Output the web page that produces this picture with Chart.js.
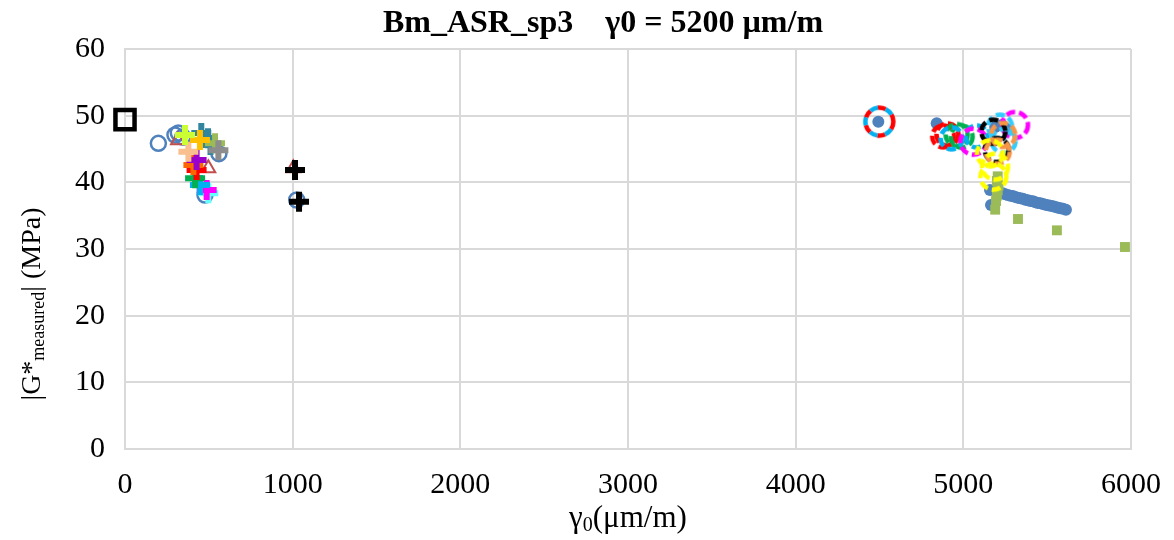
<!DOCTYPE html>
<html>
<head>
<meta charset="utf-8">
<script src="https://cdn.jsdelivr.net/npm/chart.js@4.4.1/dist/chart.umd.min.js"></script>
<style>
html,body{margin:0;padding:0;background:#fff;}
#wrap{width:1174px;height:540px;position:relative;}
</style>
</head>
<body>
<div id="wrap"><canvas id="c" width="1174" height="540"></canvas></div>
<script>
// ---------- DATA ----------
const titleText = 'Bm_ASR_sp3    \u03B30 = 5200 \u00B5m/m';
const xTicks = [0, 1000, 2000, 3000, 4000, 5000, 6000];
const yTicks = [0, 10, 20, 30, 40, 50, 60];

// left cluster (hollow markers)
const blackSquareX = [0];
const blackSquareY = [49.4];
const blueCircleX = [199, 298, 318, 345, 560, 477, 1024];
const blueCircleY = [45.85, 47.1, 47.4, 46.8, 44.3, 38.1, 37.35];
const redTriX = [316, 497, 1004];
const redTriY = [46.3, 42.1, 42.1];
const blackPlusX = [1014, 1038];
const blackPlusY = [41.85, 37.1];
const plusYellowGreenX = [358];   const plusYellowGreenY = [47.1];
const plusTealX = [455, 495, 510]; const plusTealY = [47.4, 46.6, 45.6];
const plusOrangeX = [447];        const plusOrangeY = [46.35];
const plusGreenX = [537];         const plusGreenY = [45.85];
const plusGrayX = [557];          const plusGrayY = [44.8];
const plusPeachX = [378];         const plusPeachY = [44.6];
const plusPurpleX = [427];        const plusPurpleY = [43.35];
const plusDarkOrangeX = [408];    const plusDarkOrangeY = [42.6];
const plusRedX = [427];           const plusRedY = [41.85];
const plusDarkGreenX = [418];     const plusDarkGreenY = [40.6];
const plusCyanX = [447];          const plusCyanY = [39.6];
const plusMagentaX = [487];       const plusMagentaY = [38.85];
const plusLightCyanX = [497];     const plusLightCyanY = [38.35];

// right cluster
const blueDotX = [4493, 4841, 5190, 5230, 5260, 5159, 5165,
  5205, 5220, 5235, 5250, 5265, 5280, 5295, 5310, 5325, 5340, 5355, 5370, 5385, 5400,
  5415, 5430, 5445, 5460, 5475, 5490, 5505, 5520, 5535, 5550, 5565, 5580, 5595, 5612];
const blueDotY = [49.1, 48.85, 48.3, 48.6, 48.0, 38.85, 36.6,
  38.55, 38.4, 38.35, 38.2, 38.1, 38.0, 37.95, 37.8, 37.7, 37.6, 37.55, 37.4, 37.3, 37.2,
  37.15, 37.0, 36.9, 36.85, 36.75, 36.65, 36.55, 36.5, 36.4, 36.3, 36.2, 36.1, 36.05, 35.9];
const greenSquareX = [5205, 5200, 5210, 5205, 5200, 5195, 5190, 5326, 5558, 5964];
const greenSquareY = [40.9, 40.2, 39.5, 38.8, 38.0, 37.2, 35.9, 34.5, 32.8, 30.3];

const ringRedCyanX = [4499];      const ringRedCyanY = [49.1];
const ringRedX = [4880, 4905];    const ringRedY = [46.9, 47.2];
const ringCyanX = [4930, 5079];   const ringCyanY = [46.6, 46.9];
const ringGreenX = [4990, 4960];  const ringGreenY = [46.85, 47.1];
const ringMagentaX = [5060, 5308]; const ringMagentaY = [46.1, 48.6];
const ringLightCyanX = [5219, 5240]; const ringLightCyanY = [48.35, 46.2];
const ringBlackX = [5179, 5199];  const ringBlackY = [47.6, 44.85];
const ringOrangeX = [5238, 5205]; const ringOrangeY = [47.1, 44.6];
const ringYellowX = [5159, 5189, 5179]; const ringYellowY = [44.35, 42.35, 40.85];

// ---------- helpers ----------
const FONT = "'Liberation Serif','Times New Roman',serif";
function pts(xs, ys) { return xs.map((x, i) => ({x: x, y: ys[i]})); }
function ring(colors, r) {
  const lw = 4.5, size = Math.ceil(2 * (r + lw));
  const c = document.createElement('canvas');
  c.width = size; c.height = size;
  const g = c.getContext('2d');
  g.lineWidth = lw;
  colors.forEach((col, i) => {
    g.strokeStyle = col;
    if (colors.length > 1) { g.setLineDash([8, 8]); g.lineDashOffset = i * 8; }
    else { g.setLineDash([9, 4]); }
    g.beginPath(); g.arc(size / 2, size / 2, r, 0, Math.PI * 2); g.stroke();
  });
  return c;
}
function plusDs(xs, ys, color, order) {
  return {data: pts(xs, ys), pointStyle: 'cross', pointRadius: 10, borderWidth: 6,
    borderColor: color, backgroundColor: color, order: order, clip: false};
}
function ringDs(xs, ys, colors, r, order) {
  return {data: pts(xs, ys), pointStyle: ring(colors, r), pointRadius: r,
    borderColor: colors[0], backgroundColor: 'rgba(0,0,0,0)', order: order, clip: false};
}

const datasets = [
  ringDs(ringRedCyanX, ringRedCyanY, ['#FF0000', '#00B0F0'], 14, 1),
  ringDs(ringYellowX, ringYellowY, ['#FFFF00'], 13, 1),
  ringDs(ringOrangeX, ringOrangeY, ['#F79646'], 12, 2),
  ringDs(ringBlackX, ringBlackY, ['#000000'], 12, 3),
  ringDs(ringLightCyanX, ringLightCyanY, ['#33CCFF'], 12, 4),
  ringDs(ringMagentaX, ringMagentaY, ['#FF00FF'], 13, 5),
  ringDs(ringCyanX, ringCyanY, ['#00B0F0'], 11, 6),
  ringDs(ringGreenX, ringGreenY, ['#00B050'], 11, 7),
  ringDs(ringRedX, ringRedY, ['#FF0000'], 11, 8),
  {data: pts(blackSquareX, blackSquareY), pointStyle: 'rect', pointRadius: 13.5, borderWidth: 4.5,
    borderColor: '#000000', backgroundColor: 'rgba(0,0,0,0)', order: 9, clip: false},
  plusDs(blackPlusX, blackPlusY, '#000000', 10),
  plusDs(plusYellowGreenX, plusYellowGreenY, '#CCFF33', 11),
  plusDs(plusOrangeX, plusOrangeY, '#FFC000', 12),
  plusDs(plusPeachX, plusPeachY, '#FABF8F', 13),
  plusDs(plusGrayX, plusGrayY, '#8C8C8C', 14),
  plusDs(plusGreenX, plusGreenY, '#9BBB59', 15),
  plusDs(plusTealX, plusTealY, '#31859C', 16),
  plusDs(plusPurpleX, plusPurpleY, '#9900CC', 17),
  plusDs(plusDarkOrangeX, plusDarkOrangeY, '#FF6600', 18),
  plusDs(plusRedX, plusRedY, '#FF0000', 19),
  plusDs(plusDarkGreenX, plusDarkGreenY, '#00B050', 20),
  plusDs(plusCyanX, plusCyanY, '#00B0F0', 21),
  plusDs(plusMagentaX, plusMagentaY, '#FF00FF', 22),
  plusDs(plusLightCyanX, plusLightCyanY, '#66FFFF', 23),
  {data: pts(redTriX, redTriY), pointStyle: 'triangle', pointRadius: 8, borderWidth: 2,
    borderColor: '#C0504D', backgroundColor: 'rgba(0,0,0,0)', order: 24, clip: false},
  {data: pts(blueCircleX, blueCircleY), pointStyle: 'circle', pointRadius: 7.5, borderWidth: 2.5,
    borderColor: '#4F81BD', backgroundColor: 'rgba(0,0,0,0)', order: 25, clip: false},
  {data: pts(greenSquareX, greenSquareY), pointStyle: 'rect', pointRadius: 7, borderWidth: 0,
    borderColor: '#9BBB59', backgroundColor: '#9BBB59', order: 26, clip: false},
  {data: pts(blueDotX, blueDotY), pointStyle: 'circle', pointRadius: 6, borderWidth: 0,
    borderColor: '#4F81BD', backgroundColor: '#4F81BD', order: 27, clip: false}
];

const textPlugin = {
  id: 'texts',
  afterDraw(chart) {
    const ctx = chart.ctx;
    ctx.save();
    ctx.fillStyle = '#000';
    // title
    ctx.font = 'bold 32px ' + FONT;
    ctx.textAlign = 'center';
    ctx.textBaseline = 'alphabetic';
    ctx.fillText(titleText, 603, 32);
    // x title: γ0(μm/m) with subscript 0
    ctx.textAlign = 'left';
    const xMain = '31px ' + FONT, xSub = '20px ' + FONT;
    ctx.font = xMain; const w1 = ctx.measureText('\u03B3').width;
    ctx.font = xSub;  const w2 = ctx.measureText('0').width;
    ctx.font = xMain; const w3 = ctx.measureText('(\u03BCm/m)').width;
    let x0 = 628 - (w1 + w2 + w3) / 2;
    const by = 527;
    ctx.font = xMain; ctx.fillText('\u03B3', x0, by);
    ctx.font = xSub;  ctx.fillText('0', x0 + w1, by + 4);
    ctx.font = xMain; ctx.fillText('(\u03BCm/m)', x0 + w1 + w2, by);
    // y title rotated
    const yMain = '28px ' + FONT, ySub = '18px ' + FONT;
    ctx.translate(40, 304);
    ctx.rotate(-Math.PI / 2);
    ctx.font = yMain; const a1 = ctx.measureText('|G*').width;
    ctx.font = ySub;  const a2 = ctx.measureText('measured').width;
    ctx.font = yMain; const a3 = ctx.measureText('| (MPa)').width;
    let s = -(a1 + a2 + a3) / 2;
    ctx.font = yMain; ctx.fillText('|G*', s, 0);
    ctx.font = ySub;  ctx.fillText('measured', s + a1, 4);
    ctx.font = yMain; ctx.fillText('| (MPa)', s + a1 + a2, 0);
    ctx.restore();
  }
};

new Chart(document.getElementById('c'), {
  type: 'scatter',
  data: {datasets: datasets},
  options: {
    responsive: false,
    animation: false,
    devicePixelRatio: 1,
    layout: {padding: {top: 49, right: 43, left: 0, bottom: 0}},
    plugins: {legend: {display: false}, tooltip: {enabled: false}, title: {display: false}},
    elements: {line: {borderWidth: 0}},
    scales: {
      x: {
        type: 'linear', min: 0, max: 6000,
        afterBuildTicks: (s) => { s.ticks = xTicks.map(v => ({value: v})); },
        afterFit: (s) => { s.height = 91; s.paddingRight = 0; s.paddingLeft = 0; },
        grid: {color: '#D9D9D9', lineWidth: 2, drawTicks: false},
        border: {color: '#D9D9D9', width: 2},
        ticks: {color: '#000', font: {family: FONT, size: 30}, padding: 18, maxRotation: 0,
          callback: (v) => String(v)}
      },
      y: {
        type: 'linear', min: 0, max: 60,
        afterBuildTicks: (s) => { s.ticks = yTicks.map(v => ({value: v})); },
        afterFit: (s) => { s.width = 125; },
        grid: {color: '#D9D9D9', lineWidth: 2, drawTicks: false},
        border: {color: '#D9D9D9', width: 2},
        ticks: {color: '#000', font: {family: FONT, size: 30}, padding: 20,
          callback: (v) => String(v)}
      }
    }
  },
  plugins: [textPlugin]
});
</script>
</body>
</html>
